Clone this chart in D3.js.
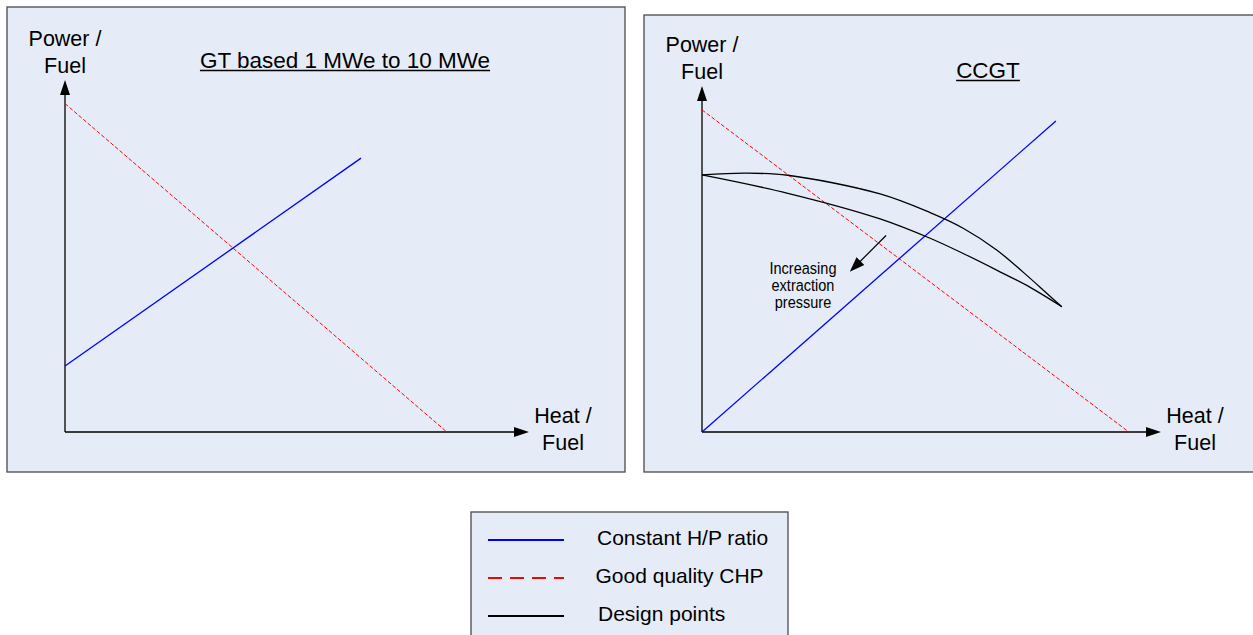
<!DOCTYPE html>
<html>
<head>
<meta charset="utf-8">
<script src="https://cdn.jsdelivr.net/npm/d3@7"></script>
<style>
    body { margin: 0; background: #ffffff; }
    text { font-family: "Liberation Sans", Arial, sans-serif; fill: #000; }
</style>
</head>
<body>
<div id="viz-container"></div>
<script>
//data, in axis units (0..10 on both axes of each panel)
let panelTitles = ["GT based 1 MWe to 10 MWe", "CCGT"];

let gtConstantHP = [{ x: 0, y: 1.875 }, { x: 6.38, y: 7.78 }];
let gtGoodCHP = [{ x: 0, y: 9.33 }, { x: 8.23, y: 0 }];

let ccgtConstantHP = [{ x: 0, y: 0 }, { x: 7.71, y: 8.99 }];
let ccgtGoodCHP = [{ x: 0, y: 9.31 }, { x: 9.30, y: 0 }];
let ccgtDesignUpper = [
    { x: 0, y: 7.43 }, { x: 0.94, y: 7.48 }, { x: 1.87, y: 7.42 }, { x: 3.88, y: 6.88 },
    { x: 4.97, y: 6.34 }, { x: 5.69, y: 5.89 }, { x: 6.42, y: 5.26 }, { x: 7.15, y: 4.44 },
    { x: 7.51, y: 4.01 }, { x: 7.84, y: 3.62 }
];
let ccgtDesignLower = [
    { x: 0, y: 7.43 }, { x: 1.87, y: 6.90 }, { x: 3.88, y: 6.16 }, { x: 4.97, y: 5.60 },
    { x: 5.69, y: 5.16 }, { x: 6.42, y: 4.68 }, { x: 7.15, y: 4.18 }, { x: 7.84, y: 3.62 }
];

//arrow "increasing extraction pressure": from -> to
let pressureArrow = [{ x: 4.01, y: 5.68 }, { x: 3.22, y: 4.63 }];
let pressureText = ["Increasing", "extraction", "pressure"];
let pressureTextAt = { x: 2.20, y: 4.57 };

let legendLabels = ["Constant H/P ratio", "Good quality CHP", "Design points"];

let yAxisLabel = ["Power /", "Fuel"];
let xAxisLabel = ["Heat /", "Fuel"];

//colours
let bgColor = "#e6ecf7";
let blue = "#0000ff";
let red = "#ff0000";

let viz = d3.select("#viz-container")
    .append("svg")
    .attr("id", "viz")
    .attr("width", 1253)
    .attr("height", 635);

//filled triangle, tip at (tx,ty), pointing along angle (radians)
function arrowHead(g, tx, ty, angle, len, half) {
    let bx = tx - Math.cos(angle) * len;
    let by = ty - Math.sin(angle) * len;
    let px = -Math.sin(angle) * half;
    let py = Math.cos(angle) * half;
    g.append("path")
        .attr("d", "M" + tx + "," + ty + "L" + (bx + px) + "," + (by + py) + "L" + (bx - px) + "," + (by - py) + "Z")
        .attr("fill", "#000");
}

function makePanel(box, origin, xTip, yTip, title, titleX, titleY) {
    let g = viz.append("g");

    g.append("rect")
        .attr("x", box.x).attr("y", box.y)
        .attr("width", box.w).attr("height", box.h)
        .attr("fill", bgColor)
        .attr("stroke", "#4a4a4a")
        .attr("stroke-width", 1.3);

    let x = d3.scaleLinear().domain([0, 10]).range([origin.x, xTip]);
    let y = d3.scaleLinear().domain([0, 10]).range([origin.y, yTip]);

    //axes with arrows
    g.append("line")
        .attr("x1", origin.x).attr("y1", origin.y)
        .attr("x2", origin.x).attr("y2", yTip + 10)
        .attr("stroke", "#000").attr("stroke-width", 1.3);
    g.append("line")
        .attr("x1", origin.x).attr("y1", origin.y)
        .attr("x2", xTip - 10).attr("y2", origin.y)
        .attr("stroke", "#000").attr("stroke-width", 1.3);
    arrowHead(g, origin.x, yTip, -Math.PI / 2, 15, 5);
    arrowHead(g, xTip, origin.y, 0, 15, 5);

    //axis labels
    g.selectAll(".ylab").data(yAxisLabel).enter().append("text")
        .attr("class", "ylab")
        .attr("x", origin.x)
        .attr("y", (d, i) => yTip - 34 + i * 26.5)
        .attr("text-anchor", "middle")
        .style("font-size", "21.5px")
        .text(d => d);
    g.selectAll(".xlab").data(xAxisLabel).enter().append("text")
        .attr("class", "xlab")
        .attr("x", xTip + 34)
        .attr("y", (d, i) => origin.y - 9 + i * 27)
        .attr("text-anchor", "middle")
        .style("font-size", "21.5px")
        .text(d => d);

    //underlined title
    let t = g.append("text")
        .attr("x", titleX).attr("y", titleY)
        .attr("text-anchor", "middle")
        .style("font-size", "22.5px")
        .text(title);
    let tw = t.node().getComputedTextLength();
    g.append("line")
        .attr("x1", titleX - tw / 2).attr("x2", titleX + tw / 2)
        .attr("y1", titleY + 2.5).attr("y2", titleY + 2.5)
        .attr("stroke", "#000").attr("stroke-width", 1.3);

    return { g: g, x: x, y: y };
}

function drawLine(p, data, color, dash, curve) {
    let line = d3.line()
        .x(d => p.x(d.x))
        .y(d => p.y(d.y))
        .curve(curve || d3.curveLinear);
    p.g.append("path")
        .datum(data)
        .attr("d", line)
        .attr("fill", "none")
        .attr("stroke", color)
        .attr("stroke-width", dash ? 1 : 1.3)
        .attr("stroke-dasharray", dash);
}

//left panel
let left = makePanel({ x: 7, y: 7, w: 618, h: 465 }, { x: 65, y: 432 }, 529, 80, panelTitles[0], 345, 68);
drawLine(left, gtGoodCHP, red, "4,2");
drawLine(left, gtConstantHP, blue);

//right panel (runs off the right edge)
let right = makePanel({ x: 644, y: 15, w: 620, h: 457 }, { x: 702, y: 432 }, 1161, 86, panelTitles[1], 988, 78);
drawLine(right, ccgtGoodCHP, red, "4,2");
drawLine(right, ccgtConstantHP, blue);
drawLine(right, ccgtDesignUpper, "#000", null, d3.curveCatmullRom);
drawLine(right, ccgtDesignLower, "#000", null, d3.curveCatmullRom);

//annotation arrow
let a0 = pressureArrow[0], a1 = pressureArrow[1];
let ax0 = right.x(a0.x), ay0 = right.y(a0.y), ax1 = right.x(a1.x), ay1 = right.y(a1.y);
let ang = Math.atan2(ay1 - ay0, ax1 - ax0);
right.g.append("line")
    .attr("x1", ax0).attr("y1", ay0)
    .attr("x2", ax1 - Math.cos(ang) * 10).attr("y2", ay1 - Math.sin(ang) * 10)
    .attr("stroke", "#000").attr("stroke-width", 1.2);
arrowHead(right.g, ax1, ay1, ang, 15, 5.5);

//narrow-looking note text: squeeze horizontally around its centre
let noteX = right.x(pressureTextAt.x);
right.g.append("g")
    .attr("transform", "translate(" + noteX + ",0) scale(0.88,1)")
    .selectAll(".note").data(pressureText).enter().append("text")
    .attr("class", "note")
    .attr("x", 0)
    .attr("y", (d, i) => right.y(pressureTextAt.y) + i * 17.3)
    .attr("text-anchor", "middle")
    .style("font-size", "16.5px")
    .text(d => d);

//legend
let legend = viz.append("g");
legend.append("rect")
    .attr("x", 471).attr("y", 512)
    .attr("width", 317).attr("height", 140)
    .attr("fill", bgColor)
    .attr("stroke", "#4a4a4a")
    .attr("stroke-width", 1.3);

let legendColors = [blue, red, "#000"];
let legendDash = [null, "14,8", null];
let legendY = d3.scalePoint().domain(legendLabels).range([540, 616]);

legend.selectAll(".key").data(legendLabels).enter().append("line")
    .attr("class", "key")
    .attr("x1", 488).attr("x2", 564)
    .attr("y1", d => legendY(d)).attr("y2", d => legendY(d))
    .attr("stroke", (d, i) => legendColors[i])
    .attr("stroke-width", 2)
    .attr("stroke-dasharray", (d, i) => legendDash[i]);

legend.selectAll(".keytext").data(legendLabels).enter().append("text")
    .attr("class", "keytext")
    .attr("x", (d, i) => [597, 595.5, 598][i])
    .attr("y", d => legendY(d) + 5)
    .style("font-size", "21px")
    .text(d => d);
</script>
</body>
</html>
